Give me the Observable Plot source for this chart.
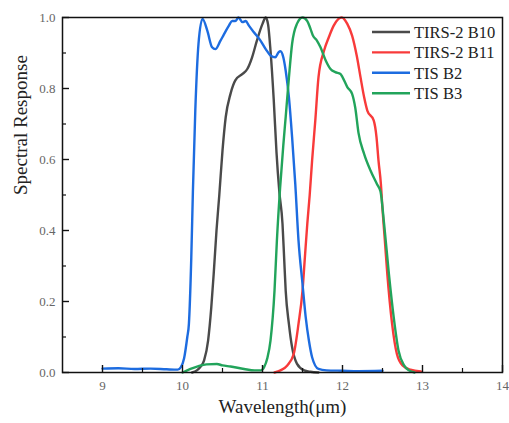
<!DOCTYPE html>
<html><head><meta charset="utf-8">
<script src="https://cdn.jsdelivr.net/npm/d3@7"></script>
<script src="https://cdn.jsdelivr.net/npm/@observablehq/plot@0.6"></script>
<style>body{margin:0;background:#fff} #chart{width:509px;height:423px}</style>
</head><body><div id="chart"></div>
<script>
const seriesNames = ["TIRS-2 B10", "TIRS-2 B11", "TIS B2", "TIS B3"];
const seriesColors = ["#4a4a4a", "#f83a3a", "#1d6ce0", "#22a45b"];

const b10Wavelength = [10.12, 10.18, 10.22, 10.27, 10.32, 10.36, 10.39, 10.425, 10.46, 10.50, 10.54, 10.60, 10.66, 10.75, 10.81, 10.87, 10.93, 11.00, 11.04, 11.07, 11.10, 11.14, 11.175, 11.21, 11.25, 11.27, 11.29, 11.33, 11.37, 11.43, 11.52, 11.60, 11.70];
const b10Response   = [0.0, 0.006, 0.015, 0.034, 0.09, 0.184, 0.278, 0.40, 0.50, 0.625, 0.719, 0.785, 0.823, 0.841, 0.855, 0.888, 0.935, 0.982, 1.0, 0.98, 0.907, 0.77, 0.62, 0.51, 0.419, 0.325, 0.23, 0.137, 0.071, 0.025, 0.006, 0.002, 0.0];

const b11Wavelength = [11.15, 11.225, 11.31, 11.39, 11.45, 11.50, 11.53, 11.56, 11.59, 11.62, 11.66, 11.70, 11.77, 11.83, 11.89, 11.95, 11.99, 12.06, 12.12, 12.18, 12.225, 12.27, 12.31, 12.39, 12.425, 12.45, 12.48, 12.50, 12.53, 12.56, 12.62, 12.68, 12.75, 12.85, 12.98];
const b11Response   = [0.0, 0.006, 0.02, 0.052, 0.137, 0.23, 0.325, 0.419, 0.50, 0.597, 0.71, 0.832, 0.907, 0.945, 0.977, 0.996, 1.0, 0.982, 0.949, 0.89, 0.832, 0.776, 0.738, 0.71, 0.663, 0.597, 0.531, 0.46, 0.37, 0.278, 0.137, 0.052, 0.02, 0.008, 0.003];

const b2Wavelength = [9.0, 9.2, 9.4, 9.6, 9.8, 9.94, 9.98, 10.02, 10.06, 10.08, 10.11, 10.13, 10.16, 10.20, 10.25, 10.31, 10.37, 10.41, 10.475, 10.51, 10.58, 10.62, 10.66, 10.70, 10.75, 10.79, 10.83, 10.89, 10.975, 11.04, 11.10, 11.16, 11.20, 11.225, 11.26, 11.29, 11.33, 11.37, 11.41, 11.45, 11.50, 11.54, 11.58, 11.62, 11.70, 11.80, 12.0, 12.2, 12.5];
const b2Response   = [0.011, 0.012, 0.010, 0.011, 0.009, 0.008, 0.015, 0.04, 0.10, 0.137, 0.325, 0.51, 0.738, 0.926, 0.996, 0.963, 0.916, 0.911, 0.935, 0.949, 0.977, 0.99, 0.99, 1.0, 0.987, 0.99, 0.977, 0.959, 0.935, 0.911, 0.893, 0.888, 0.902, 0.905, 0.888, 0.85, 0.776, 0.663, 0.53, 0.372, 0.25, 0.156, 0.09, 0.043, 0.01, 0.006, 0.005, 0.004, 0.005];

const b3Wavelength = [10.0, 10.1, 10.2, 10.3, 10.43, 10.5, 10.6, 10.77, 10.9, 10.98, 11.02, 11.06, 11.10, 11.15, 11.18, 11.22, 11.26, 11.29, 11.33, 11.37, 11.43, 11.50, 11.56, 11.60, 11.63, 11.68, 11.725, 11.79, 11.85, 11.91, 11.975, 12.0, 12.06, 12.12, 12.16, 12.2, 12.27, 12.35, 12.43, 12.475, 12.52, 12.58, 12.64, 12.70, 12.77, 12.83, 12.9];
const b3Response   = [0.0, 0.01, 0.018, 0.023, 0.024, 0.02, 0.017, 0.01, 0.006, 0.006, 0.015, 0.04, 0.09, 0.23, 0.372, 0.52, 0.64, 0.72, 0.83, 0.926, 0.982, 1.0, 0.99, 0.968, 0.949, 0.935, 0.916, 0.879, 0.855, 0.846, 0.841, 0.832, 0.804, 0.785, 0.745, 0.675, 0.616, 0.569, 0.531, 0.51, 0.419, 0.278, 0.156, 0.062, 0.02, 0.006, 0.0];

const xTicks = [9, 10, 11, 12, 13, 14];
const xMinorTicks = [9.5, 10.5, 11.5, 12.5, 13.5];
const yTicks = [0, 0.2, 0.4, 0.6, 0.8, 1.0];
const yMinorTicks = [0.1, 0.3, 0.5, 0.7, 0.9];
const xLabel = "Wavelength(μm)";
const yLabel = "Spectral Response";

const bands = [
  [b10Wavelength, b10Response],
  [b11Wavelength, b11Response],
  [b2Wavelength, b2Response],
  [b3Wavelength, b3Response]
];
const rows = [];
bands.forEach(([xs, ys], i) => xs.forEach((x, j) => rows.push({band: seriesNames[i], wavelength: x, response: ys[j]})));

const W = 509, H = 423, ml = 62, mr = 7, mt = 17, mb = 51;
const innerH = H - mt - mb, innerW = W - ml - mr;
const serif = "'Liberation Serif', 'Times New Roman', serif";

const plot = Plot.plot({
  width: W, height: H,
  marginLeft: ml, marginRight: mr, marginTop: mt, marginBottom: mb,
  style: {fontFamily: serif, background: "white", overflow: "visible"},
  x: {domain: [8.5, 14]},
  y: {domain: [0, 1]},
  color: {domain: seriesNames, range: seriesColors},
  marks: [
    Plot.axisX(xTicks, {tickSize: 0, tickPadding: 8, fontSize: 13, fontFamily: serif, fill: "#666", label: null}),
    Plot.axisY(yTicks, {tickSize: 0, tickPadding: 7, fontSize: 13, fontFamily: serif, fill: "#666", tickFormat: d => d.toFixed(1), label: null}),
    Plot.line(rows, {x: "wavelength", y: "response", z: "band", stroke: "band", curve: "monotone-x", strokeWidth: 2.4}),
    Plot.tickX(xTicks, {x: d => d, insetTop: innerH - 7, stroke: "#111", strokeWidth: 1.4}),
    Plot.tickX(xMinorTicks, {x: d => d, insetTop: innerH - 4, stroke: "#111", strokeWidth: 1.2}),
    Plot.tickY(yTicks, {y: d => d, insetRight: innerW - 7, stroke: "#111", strokeWidth: 1.4}),
    Plot.tickY(yMinorTicks, {y: d => d, insetRight: innerW - 4, stroke: "#111", strokeWidth: 1.2}),
    Plot.frame({stroke: "#111", strokeWidth: 1.5}),
    Plot.text([xLabel], {frameAnchor: "bottom", dy: 40, text: d => d, fontSize: 19, fontFamily: serif, fill: "#222"}),
    Plot.text([yLabel], {frameAnchor: "left", dx: -42, rotate: -90, text: d => d, fontSize: 19, fontFamily: serif, fill: "#222"})
  ]
});

// legend inside the plot, top-right
const svg = d3.select(plot);
const leg = svg.append("g").attr("font-family", serif).attr("font-size", 16.5).attr("text-anchor", "start");
seriesNames.forEach((name, i) => {
  const y = 32 + i * 20.4;
  leg.append("line").attr("x1", 372).attr("x2", 410).attr("y1", y).attr("y2", y)
    .attr("stroke", seriesColors[i]).attr("stroke-width", 2.4);
  leg.append("text").attr("x", 414).attr("y", y).attr("dy", "0.35em").attr("text-anchor", "start").attr("fill", "#222").text(name);
});

document.getElementById("chart").appendChild(plot);
</script>
</body></html>
